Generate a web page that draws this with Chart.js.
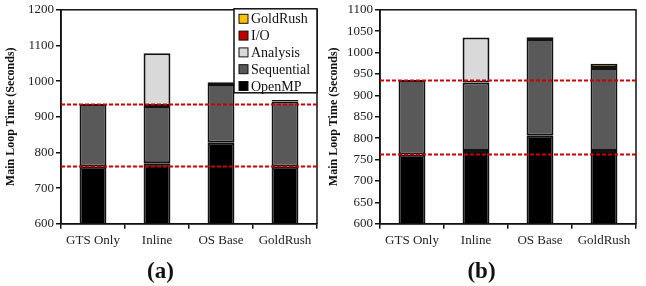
<!DOCTYPE html>
<html>
<head>
<meta charset="utf-8">
<script src="https://cdn.jsdelivr.net/npm/chart.js@4.4.1/dist/chart.umd.min.js"></script>
<style>
  body { margin: 0; background: #fff; }
  .box { position: absolute; top: 0; width: 323px; height: 286px; }
</style>
</head>
<body>
<div class="box" style="left:0"><canvas id="chartA"></canvas></div>
<div class="box" style="left:323px"><canvas id="chartB"></canvas></div>
<script>
var categories = ["GTS Only", "Inline", "OS Base", "GoldRush"];
var seriesNames = ["OpenMP", "Sequential", "Analysis", "I/O", "GoldRush"];
var seriesColors = ["#000000", "#595959", "#d9d9d9", "#c00000", "#ffc000"];

// panel (a)
var openmpA = [760, 770, 827, 760];
var sequentialA = [176, 160, 165, 183];
var analysisA = [0, 148, 0, 0];
var ioA = [0, 0, 5, 0];
var goldrushA = [0, 0, 0, 4];

// panel (b)
var openmpB = [762, 770, 806, 770];
var sequentialB = [174, 160, 226, 194];
var analysisB = [0, 105, 0, 0];
var ioB = [0, 0, 4, 0];
var goldrushB = [0, 0, 0, 10];

var refLines = [762, 936];

var serif = "'Liberation Serif', 'Times New Roman', serif";

function makeSets(vals) {
    return vals.map(function(v, i) {
        return {
            label: seriesNames[i],
            data: v,
            backgroundColor: seriesColors[i],
            borderColor: "#111",
            borderWidth: 2,
            borderSkipped: false,
            barPercentage: 0.42,
            categoryPercentage: 1.0
        };
    });
}

var frameAndLines = {
    id: "frameAndLines",
    afterDatasetsDraw: function(chart) {
        var c = chart.ctx, a = chart.chartArea, y = chart.scales.y;
        c.save();
        c.strokeStyle = "#111";
        c.lineWidth = 1.5;
        c.strokeRect(a.left, a.top, a.right - a.left, a.bottom - a.top);
        c.strokeStyle = "#cc0000";
        c.lineWidth = 2;
        c.setLineDash([4, 2]);
        refLines.forEach(function(v) {
            var py = Math.round(y.getPixelForValue(v)) + 0.5;
            c.beginPath();
            c.moveTo(a.left, py);
            c.lineTo(a.right, py);
            c.stroke();
        });
        c.restore();
    }
};

var insideLegend = {
    id: "insideLegend",
    afterDraw: function(chart, args, opts) {
        if (!opts.show) return;
        var c = chart.ctx, a = chart.chartArea;
        var w = 83, h = 84;
        var x0 = a.right - w, y0 = a.top - 1;
        c.save();
        c.fillStyle = "#fff";
        c.fillRect(x0, y0, w, h);
        c.strokeStyle = "#111";
        c.lineWidth = 1.5;
        c.strokeRect(x0, y0, w, h);
        c.font = "14px " + serif;
        c.textBaseline = "middle";
        var sets = chart.data.datasets.slice().reverse();
        sets.forEach(function(ds, i) {
            var cy = y0 + 10 + i * 16.8;
            c.fillStyle = ds.backgroundColor;
            c.fillRect(x0 + 5, cy - 4.5, 9, 9);
            c.strokeStyle = "#111";
            c.lineWidth = 1;
            c.strokeRect(x0 + 5, cy - 4.5, 9, 9);
            c.fillStyle = "#111";
            c.fillText(ds.label, x0 + 17, cy + 1);
        });
        c.restore();
    }
};

function build(id, vals, yMax, step, yWidth, rightPad, panel, legend) {
    return new Chart(document.getElementById(id), {
        type: "bar",
        data: { labels: categories, datasets: makeSets(vals) },
        options: {
            responsive: true,
            maintainAspectRatio: false,
            animation: false,
            layout: { padding: { top: 6, right: rightPad, left: 4, bottom: 0 } },
            plugins: {
                legend: { display: false },
                tooltip: { enabled: false },
                insideLegend: { show: legend },
                title: {
                    display: true,
                    position: "bottom",
                    text: panel,
                    color: "#111",
                    font: { family: serif, size: 23, weight: "bold" },
                    padding: { top: 6, bottom: 0 }
                }
            },
            scales: {
                x: {
                    stacked: true,
                    grid: { display: true, drawOnChartArea: false, drawTicks: true, tickLength: 5, color: "#111", lineWidth: 1.5 },
                    border: { display: true, color: "#111", width: 1.5 },
                    ticks: { color: "#222", font: { family: serif, size: 13 }, padding: 4 }
                },
                y: {
                    stacked: true,
                    min: 600,
                    max: yMax,
                    afterFit: function(s) { s.width = yWidth; },
                    grid: { display: true, drawOnChartArea: false, drawTicks: true, tickLength: 5, color: "#111", lineWidth: 1.5 },
                    border: { display: true, color: "#111", width: 1.5 },
                    ticks: {
                        stepSize: step, color: "#222", font: { family: serif, size: 13 }, padding: 2,
                        callback: function(v) { return String(v); }
                    },
                    title: {
                        display: true,
                        text: "Main Loop Time (Seconds)",
                        color: "#111",
                        font: { family: serif, size: 12, weight: "bold" },
                        padding: 0
                    }
                }
            }
        },
        plugins: [frameAndLines, insideLegend]
    });
}

build("chartA", [openmpA, sequentialA, analysisA, ioA, goldrushA], 1200, 100, 57, 6, "(a)", true);
build("chartB", [openmpB, sequentialB, analysisB, ioB, goldrushB], 1100, 50, 53, 10, "(b)", false);
</script>
</body>
</html>
